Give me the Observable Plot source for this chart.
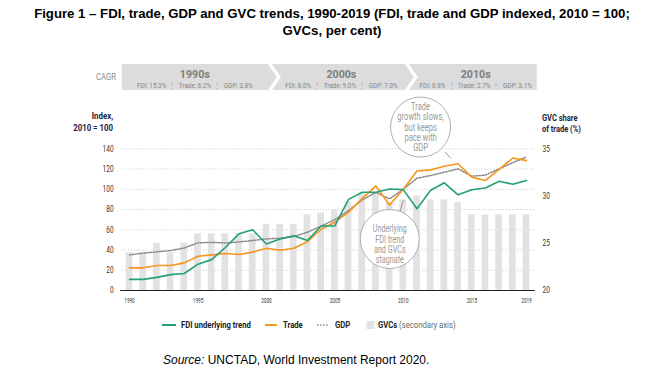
<!DOCTYPE html>
<html>
<head>
<meta charset="utf-8">
<script src="https://cdn.jsdelivr.net/npm/d3@7"></script>
<script src="https://cdn.jsdelivr.net/npm/@observablehq/plot@0.6"></script>
<style>
  html, body { margin:0; padding:0; background:#fff; }
  body { width:664px; height:373px; position:relative; overflow:hidden; font-family:"Liberation Sans", Arial, sans-serif; }
  #title { position:absolute; left:0; top:5px; width:664px; text-align:center; font-weight:bold; font-size:13.2px; line-height:17px; color:#000; }
  #chart { position:absolute; left:0; top:44px; }
  #source { position:absolute; left:163px; top:353px; font-size:12px; color:#000; white-space:nowrap; }
</style>
</head>
<body>
<div id="title">Figure 1 – FDI, trade, GDP and GVC trends, 1990-2019 (FDI, trade and GDP indexed, 2010 = 100;<br>GVCs, per cent)</div>
<div id="chart"></div>
<div id="source"><i>Source:</i> UNCTAD, World Investment Report 2020.</div>
<script>
// ---------- data ----------
const years = [1990,1991,1992,1993,1994,1995,1996,1997,1998,1999,2000,2001,2002,2003,2004,2005,2006,2007,2008,2009,2010,2011,2012,2013,2014,2015,2016,2017,2018,2019];
const fdi   = [11,11,13,15.7,16.8,26,30.5,42.5,56,60,46,51,54,49.4,63.8,63.8,90,97,97,100.3,99.7,80.7,99,106.4,94.5,99.5,101.3,108,105,108.7];
const trade = [22.4,22.4,24.7,24.7,27.3,33.9,35.2,36.6,35.6,37.9,41.8,39.8,41.8,48.2,60.5,67.5,77.4,90.8,103.3,84.4,100,118,119.2,122.8,125.2,112,108.7,119.6,130.9,128.3];
const gdp   = [35.2,36.9,38.2,39.5,42,47.1,47.5,47,48,49.4,51,51.5,53.4,57.6,63.6,70,79,89.5,97,90.5,100,111,113.6,116.9,120.2,113,114,120.2,126.3,132];
const gvc   = [24,24,25,24,25,26,26,26,26,26,27,27,27,28,28.2,28.5,29.4,30.3,30.3,29.3,29.6,30,29.6,29.6,29.3,28,28,28,28,28];

const indexTicks = [0,20,40,60,80,100,120,140];
const gvcTicks = [20,25,30,35];
const yearTicks = [1990,1995,2000,2005,2010,2015,2019];

const decades = ["1990s","2000s","2010s"];
const cagrText = ["FDI: 15.3%  ⋮  Trade: 6.2%  ⋮  GDP: 3.8%", "FDI: 8.0%  ⋮  Trade: 9.0%  ⋮  GDP: 7.0%", "FDI: 0.8%  ⋮  Trade: 2.7%  ⋮  GDP: 3.1%"];
const note1 = ["Trade","growth slows,","but keeps","pace with","GDP"];
const note2 = ["Underlying","FDI trend","and GVCs","stagnate"];

// ---------- helpers ----------
const FONT = "Roboto, 'Liberation Sans', sans-serif";
const toIdx = v => (v - 20) * 140 / 15;          // secondary axis (%) -> primary index scale
const fromIdx = d => Math.round(20 + d * 15 / 140);
const rows = years.map((y, i) => ({year: y, fdi: fdi[i], trade: trade[i], gdp: gdp[i], gvc: gvc[i]}));

const GREEN = "#24a078", ORANGE = "#f7941d", GREY = "#8a8a8a", BAR = "#e2e2e2";

const plot = Plot.plot({
  width: 664, height: 300,
  marginLeft: 129, marginRight: 138, marginTop: 104.3, marginBottom: 54,
  x: {domain: [1990, 2019]},
  y: {domain: [0, 140]},
  style: {fontFamily: FONT, fontSize: "8.5px", color: "#333", background: "transparent", overflow: "visible"},
  marks: [
    Plot.ruleY(indexTicks.filter(d => d > 0), {x1: 1989.47, x2: 2019.6, stroke: "#c4c4c4", strokeWidth: 1, strokeDasharray: "1,2"}),
    Plot.rectY(rows, {x1: d => d.year - 0.245, x2: d => d.year + 0.245, y1: 0, y2: d => toIdx(d.gvc), fill: BAR}),
    Plot.ruleY([0], {x1: 1989.35, x2: 2019.65, stroke: "#222", strokeWidth: 1}),
    Plot.line(rows, {x: "year", y: "gdp", stroke: GREY, strokeWidth: 1.5, strokeDasharray: "1.5,1.5"}),
    Plot.line(rows, {x: "year", y: "trade", stroke: ORANGE, strokeWidth: 1.6}),
    Plot.line(rows, {x: "year", y: "fdi", stroke: GREEN, strokeWidth: 1.6}),
    Plot.axisY({anchor: "left", ticks: indexTicks, tickSize: 0, tickPadding: 16, label: null}),
    Plot.axisY({anchor: "right", ticks: gvcTicks.map(toIdx), tickFormat: fromIdx, tickSize: 0, tickPadding: 16, label: null}),
    Plot.axisX({ticks: yearTicks, tickFormat: d => String(d), tickSize: 0, tickPadding: 7, label: null, fontSize: 7.8})
  ]
});
document.getElementById("chart").appendChild(plot);

const sx = plot.scale("x"), sy = plot.scale("y");
const X = v => sx.apply(v), Y = v => sy.apply(v);
const svg = d3.select(plot);

// horizontal condensing of a text node about its anchor point
function squeeze(node, s) {
  const b = node.getBBox();
  const a = getComputedStyle(node).textAnchor;
  const ax = a === "end" ? b.x + b.width : a === "middle" ? b.x + b.width / 2 : b.x;
  const prev = node.getAttribute("transform") || "";
  node.setAttribute("transform", `${prev} translate(${ax},0) scale(${s},1) translate(${-ax},0)`);
}
function ratio(node, target) { return target / node.getComputedTextLength(); }

// condensed tick labels
{
  const yl = svg.selectAll('g[aria-label="y-axis tick label"] text').nodes();
  const ref = yl.find(n => n.textContent === "140");
  const s = ref ? ratio(ref, 11) : 0.8;
  yl.forEach(n => squeeze(n, s));
  const xl = svg.selectAll('g[aria-label="x-axis tick label"] text').nodes();
  const s2 = xl.length ? ratio(xl[0], 10.5) : 0.7;
  xl.forEach(n => squeeze(n, s2));
}

// ---------- axis titles ----------
const t1 = svg.append("text").attr("text-anchor", "end").attr("font-family", FONT).attr("font-weight", "bold").attr("font-size", 9.5).attr("fill", "#1c2340");
t1.append("tspan").attr("x", X(1990) - 16).attr("y", 75).text("Index,");
const t1b = t1.append("tspan").attr("x", X(1990) - 16).attr("y", 87).text("2010 = 100");
const t2 = svg.append("text").attr("text-anchor", "start").attr("font-family", FONT).attr("font-weight", "bold").attr("font-size", 9.5).attr("fill", "#1c2340");
t2.append("tspan").attr("x", X(2019) + 16).attr("y", 77).text("GVC share");
const t2b = t2.append("tspan").attr("x", X(2019) + 16).attr("y", 88).text("of trade (%)");
squeeze(t1.node(), ratio(t1b.node(), 40));
squeeze(t2.node(), ratio(t2b.node(), 39));

// ---------- CAGR band ----------
const bandTop = 20, bandBot = 46, bandMid = 33, tip = 9;
const chev = [
  {L: 1989.47, R: 2000.15},
  {L: 2000.44, R: 2010.15},
  {L: 2010.44, R: 2019.78}
];
let sDec = null, sSub = null;
chev.forEach((c, i) => {
  const l = X(c.L), r = X(c.R);
  const pts = [];
  pts.push([l, bandTop]);
  if (i === chev.length - 1) { pts.push([r, bandTop], [r, bandBot]); }
  else { pts.push([r, bandTop], [r + tip, bandMid], [r, bandBot]); }
  pts.push([l, bandBot]);
  if (i > 0) pts.push([l + tip, bandMid]);
  svg.append("polygon").attr("points", pts.map(p => p.join(",")).join(" ")).attr("fill", "#dcdcdc");
  const cx = (l + r) / 2 + (i > 0 ? 3 : 0);
  const d = svg.append("text").attr("x", cx).attr("y", 34.5).attr("text-anchor", "middle").attr("font-family", FONT)
     .attr("font-weight", "bold").attr("font-size", 10.5).attr("fill", "#7d7d7d").text(decades[i]);
  const sub = svg.append("text").attr("x", cx).attr("y", 44.3).attr("text-anchor", "middle").attr("font-family", FONT)
     .attr("font-size", 7.4).attr("fill", "#858585").style("white-space", "pre").text(cagrText[i]);
  if (sDec === null) sDec = ratio(d.node(), 30);
  if (sSub === null) sSub = ratio(sub.node(), 115);
  squeeze(d.node(), sDec);
  squeeze(sub.node(), sSub);
});
{
  const c = svg.append("text").attr("x", 106).attr("y", 36).attr("text-anchor", "middle").attr("font-family", FONT)
     .attr("font-size", 8.5).attr("fill", "#8a8a8a").text("CAGR");
  squeeze(c.node(), ratio(c.node(), 20));
}

// ---------- annotations ----------
function note(cxYear, cyIdx, r, lines, lineTop, lh, ptr, refLine, refW) {
  const cx = X(cxYear), cy = Y(cyIdx);
  svg.append("line").attr("x1", ptr[0]).attr("y1", ptr[1]).attr("x2", ptr[2]).attr("y2", ptr[3]).attr("stroke", "#999").attr("stroke-width", 1);
  svg.append("circle").attr("cx", cx).attr("cy", cy).attr("r", r).attr("fill", "#fff").attr("stroke", "#b0b0b0").attr("stroke-width", 1);
  const t = svg.append("text").attr("text-anchor", "middle").attr("font-family", FONT).attr("font-size", 10).attr("fill", "#9a9a9a");
  const spans = lines.map((s, i) => t.append("tspan").attr("x", cx).attr("y", cy + lineTop + i * lh).text(s));
  squeeze(t.node(), ratio(spans[refLine].node(), refW));
}
note(2011.3, 161, 30, note1, -17, 10.25, [445, 108, 451, 114.5], 1, 46.5);
note(2009.05, 50.4, 29.5, note2, -6.5, 10.2, [400, 167, 403.3, 156.5], 0, 34);

// ---------- legend ----------
const ly = 281;
const lg = svg.append("g").attr("font-family", FONT).attr("font-size", 8.8).attr("text-anchor", "start");
lg.append("line").attr("x1", 162).attr("x2", 176).attr("y1", ly).attr("y2", ly).attr("stroke", GREEN).attr("stroke-width", 2);
const l1 = lg.append("text").attr("x", 181).attr("y", ly + 3).attr("font-weight", "bold").attr("fill", "#222").text("FDI underlying trend");
lg.append("line").attr("x1", 265).attr("x2", 277).attr("y1", ly).attr("y2", ly).attr("stroke", ORANGE).attr("stroke-width", 2);
const l2 = lg.append("text").attr("x", 283).attr("y", ly + 3).attr("font-weight", "bold").attr("fill", "#222").text("Trade");
lg.append("line").attr("x1", 317).attr("x2", 329).attr("y1", ly).attr("y2", ly).attr("stroke", GREY).attr("stroke-width", 1.5).attr("stroke-dasharray", "1.5,1.5");
const l3 = lg.append("text").attr("x", 335).attr("y", ly + 3).attr("font-weight", "bold").attr("fill", "#222").text("GDP");
lg.append("rect").attr("x", 366.5).attr("y", ly - 4).attr("width", 8).attr("height", 8).attr("fill", BAR);
const l4 = lg.append("text").attr("x", 378).attr("y", ly + 3).attr("fill", "#222");
l4.append("tspan").attr("font-weight", "bold").text("GVCs");
l4.append("tspan").attr("fill", "#666").text(" (secondary axis)");
{
  const s = ratio(l1.node(), 70);
  [l1, l2, l3, l4].forEach(t => squeeze(t.node(), s));
}
</script>
</body>
</html>
